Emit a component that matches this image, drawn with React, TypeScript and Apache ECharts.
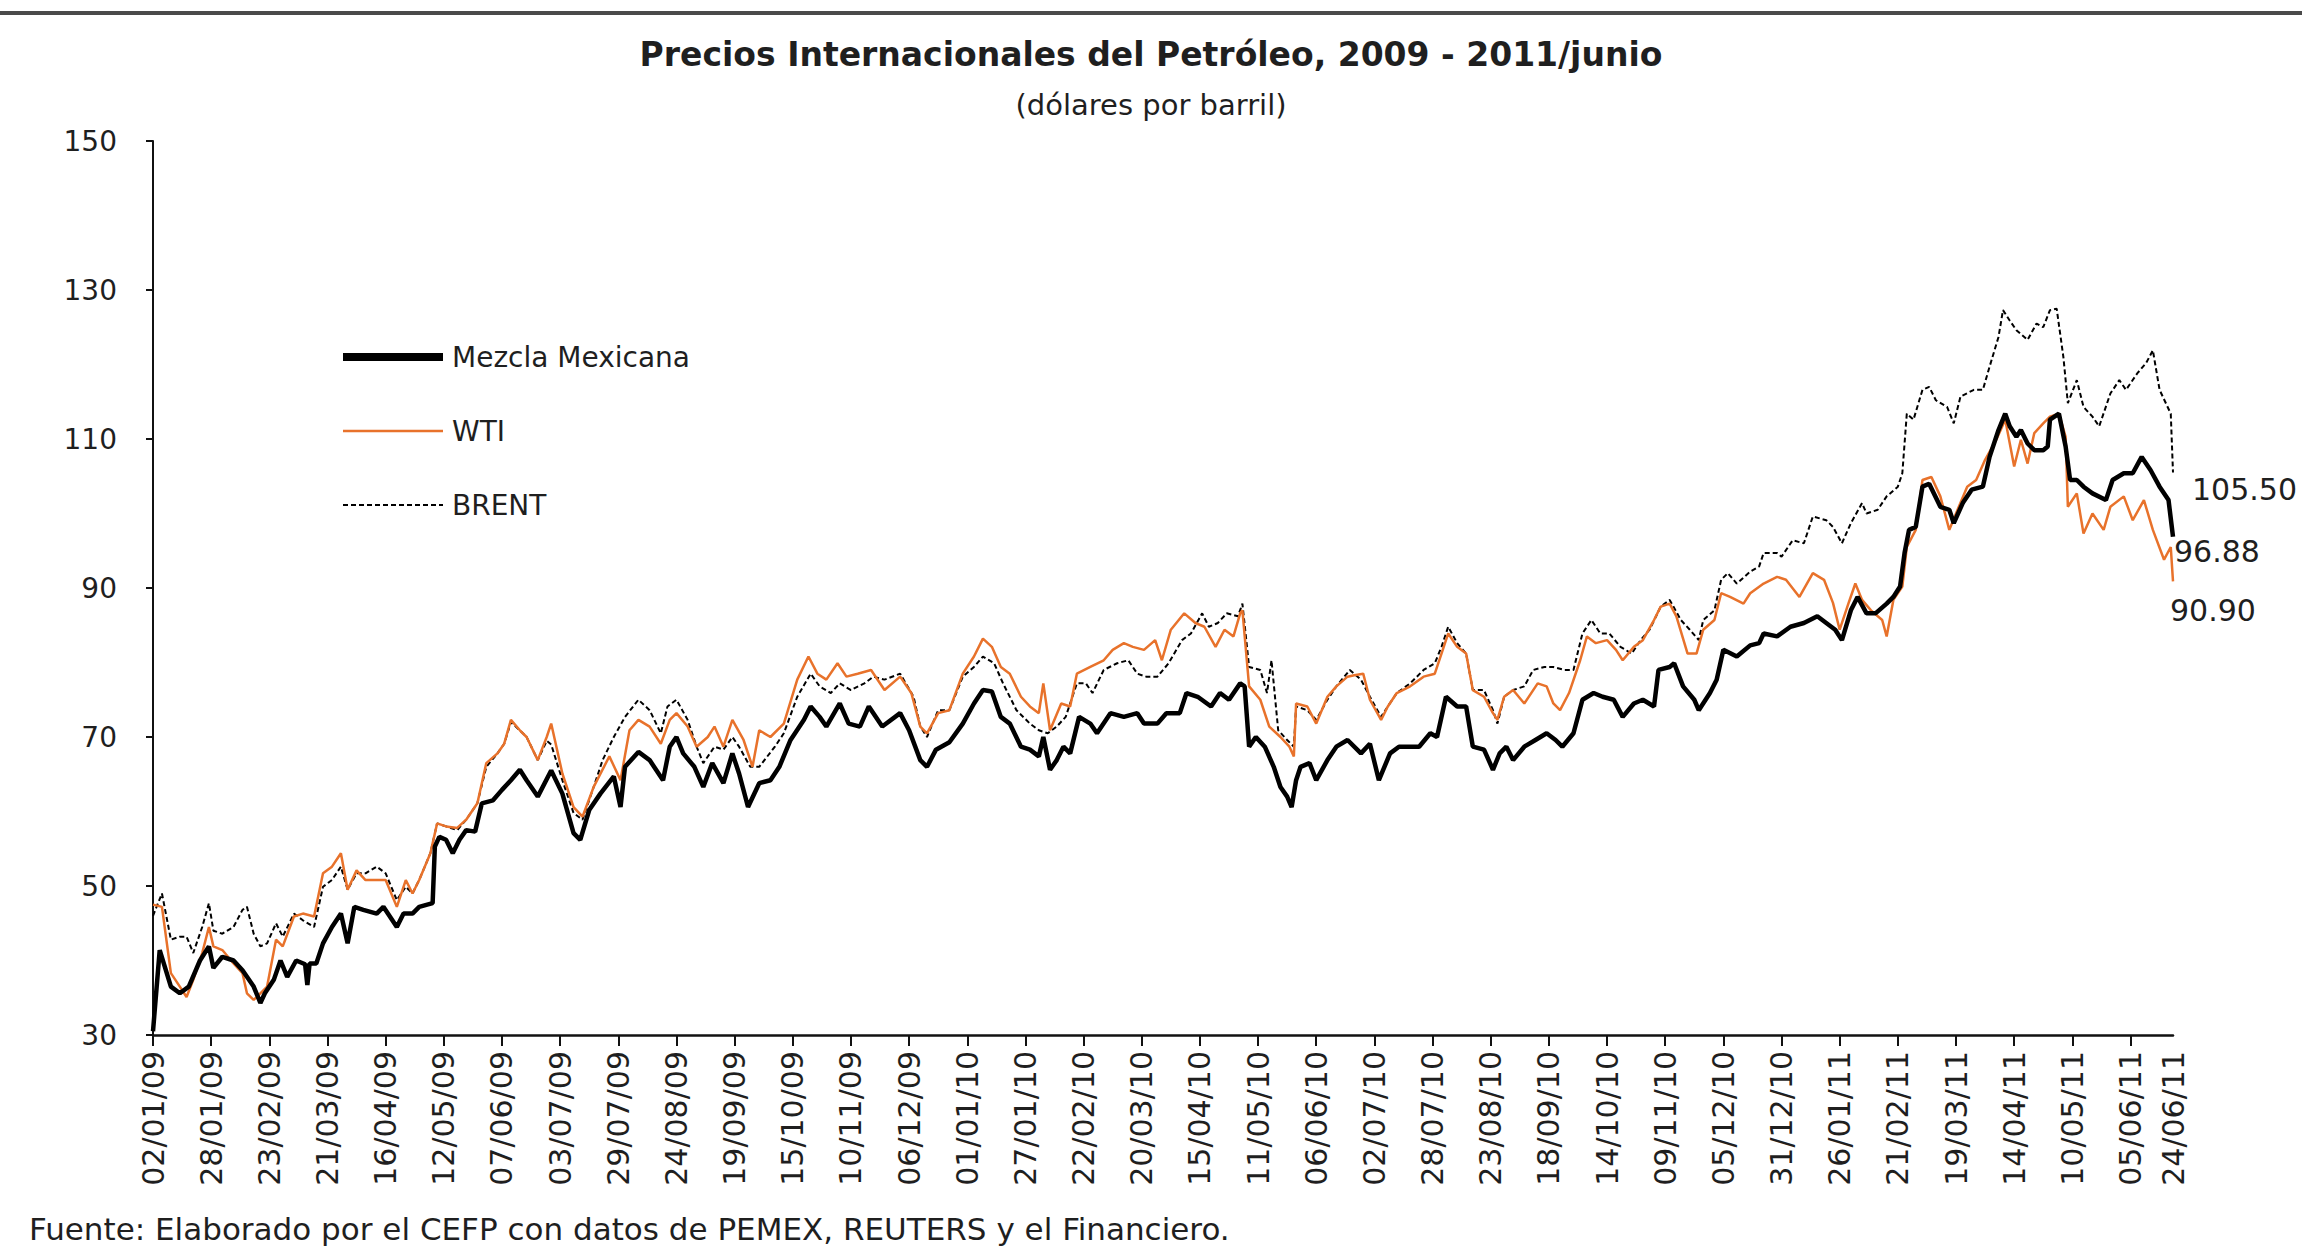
import React, { useEffect, useRef } from "react";
import * as echarts from "echarts";

// ---- Axis / text content ----
const titleText = "Precios Internacionales del Petróleo, 2009 - 2011/junio";
const subtitleText = "(dólares por barril)";
const sourceText = "Fuente: Elaborado por el CEFP con datos de PEMEX, REUTERS y el Financiero.";
const startDate = [2009, 0, 2]; // 02/01/09
const totalDays = 904; // through 24/06/11
const labelStep = 26; // days between x-axis labels
const yMin = 30;
const yMax = 150;
const yStep = 20;

// ---- Series: day offset from 02/01/09 and price (USD/bbl) ----
const mezclaDays = [0, 3, 8, 12, 16, 21, 25, 27, 31, 36, 40, 45, 48, 50, 54, 57, 60, 64, 68, 69, 70, 73, 76, 80, 84, 87, 90, 94, 100, 103, 109, 112, 116, 119, 125, 126, 128, 131, 134, 137, 140, 144, 147, 152, 156, 160, 164, 167, 172, 178, 183, 188, 191, 195, 200, 206, 209, 211, 217, 222, 228, 231, 234, 237, 242, 246, 250, 255, 259, 262, 266, 271, 276, 280, 285, 291, 294, 298, 301, 307, 311, 316, 320, 326, 334, 338, 343, 346, 350, 356, 362, 367, 371, 375, 379, 383, 388, 392, 396, 398, 401, 404, 407, 410, 414, 419, 422, 428, 434, 440, 443, 449, 453, 459, 462, 467, 473, 477, 481, 486, 488, 490, 493, 497, 501, 504, 507, 509, 511, 513, 517, 520, 525, 529, 534, 540, 544, 548, 553, 557, 562, 566, 571, 574, 578, 583, 587, 590, 595, 599, 602, 605, 608, 613, 618, 623, 627, 630, 635, 639, 644, 648, 653, 657, 662, 666, 671, 673, 678, 680, 684, 689, 691, 696, 699, 702, 708, 714, 718, 720, 726, 732, 738, 744, 748, 752, 755, 759, 762, 766, 770, 775, 778, 781, 783, 785, 788, 791, 794, 799, 803, 805, 809, 813, 818, 821, 825, 828, 830, 833, 835, 838, 841, 845, 847, 848, 852, 855, 857, 860, 863, 867, 873, 876, 881, 885, 889, 893, 897, 901, 903];
const mezclaValues = [30.5, 41.4, 36.5, 35.6, 36.5, 40, 41.9, 39, 40.5, 40, 38.7, 36.5, 34.3, 35.6, 37.4, 40, 37.8, 40, 39.5, 36.7, 39.6, 39.6, 42.3, 44.5, 46.3, 42.3, 47.2, 46.8, 46.3, 47.2, 44.5, 46.3, 46.3, 47.2, 47.7, 55.3, 56.6, 56.2, 54.4, 56.2, 57.5, 57.3, 61.1, 61.5, 62.9, 64.2, 65.6, 64.2, 62, 65.5, 62.4, 57.1, 56.2, 60.2, 62.4, 64.7, 60.6, 66, 68, 66.9, 64.2, 68.7, 70, 67.8, 66, 63.3, 66.5, 63.8, 67.8, 65.1, 60.6, 63.8, 64.2, 66, 69.6, 72.3, 74.1, 72.7, 71.4, 74.5, 71.8, 71.4, 74.1, 71.4, 73.2, 70.9, 66.9, 66, 68.3, 69.3, 71.8, 74.5, 76.3, 76.1, 72.7, 71.8, 68.7, 68.3, 67.4, 70, 65.6, 66.9, 68.7, 67.8, 72.7, 71.8, 70.5, 73.2, 72.7, 73.2, 71.8, 71.8, 73.2, 73.2, 75.9, 75.4, 74.1, 75.9, 75, 77.2, 76.8, 68.7, 70, 68.7, 66, 63.3, 62, 60.6, 64.2, 66, 66.5, 64.2, 66.9, 68.7, 69.6, 67.8, 69.1, 64.2, 67.8, 68.7, 68.7, 68.7, 70.5, 70, 75.4, 74.1, 74.1, 68.7, 68.3, 65.6, 67.8, 68.7, 66.9, 68.7, 69.6, 70.5, 69.6, 68.7, 70.5, 75, 75.9, 75.4, 75, 72.7, 74.5, 75, 74.1, 79, 79.4, 79.9, 76.8, 75, 73.6, 75.9, 77.7, 81.7, 80.8, 82.3, 82.6, 83.9, 83.5, 84.8, 85.3, 86.2, 85.3, 84.4, 83, 87, 88.8, 86.6, 86.6, 87.9, 88.8, 90.2, 94.7, 97.8, 98.2, 103.6, 104, 100.9, 100.5, 98.7, 101.4, 103.2, 103.6, 107.6, 111.2, 113.4, 111.7, 110.3, 111.2, 109.4, 108.5, 108.5, 109, 112.6, 113.4, 109, 104.5, 104.5, 103.6, 102.7, 101.8, 104.5, 105.4, 105.4, 107.6, 105.8, 103.6, 101.8, 96.88];

const wtiDays = [0, 4, 8, 12, 15, 18, 22, 25, 27, 31, 36, 40, 42, 45, 48, 51, 55, 58, 63, 67, 72, 76, 80, 84, 87, 91, 95, 100, 104, 109, 113, 116, 119, 124, 127, 131, 136, 140, 145, 149, 154, 157, 160, 164, 167, 172, 176, 178, 183, 188, 192, 197, 204, 209, 213, 217, 222, 227, 231, 234, 239, 243, 248, 251, 255, 259, 264, 268, 271, 276, 282, 288, 293, 297, 301, 306, 310, 315, 321, 327, 334, 339, 343, 346, 351, 356, 362, 367, 371, 375, 379, 383, 388, 392, 396, 398, 401, 406, 410, 413, 419, 425, 429, 434, 438, 443, 448, 451, 455, 461, 466, 470, 475, 479, 483, 486, 487, 490, 495, 499, 504, 508, 510, 511, 516, 520, 525, 529, 534, 537, 541, 544, 549, 552, 556, 562, 568, 573, 576, 579, 583, 587, 590, 595, 599, 601, 604, 608, 613, 619, 623, 626, 629, 633, 638, 641, 645, 650, 654, 657, 662, 666, 671, 674, 678, 681, 686, 690, 693, 698, 701, 705, 711, 714, 720, 726, 730, 736, 742, 747, 751, 754, 758, 761, 764, 768, 773, 775, 778, 782, 784, 788, 791, 795, 799, 803, 806, 811, 815, 819, 824, 828, 832, 835, 838, 841, 845, 848, 852, 855, 856, 860, 863, 867, 872, 875, 881, 885, 890, 894, 899, 902, 903];
const wtiValues = [47.5, 47.2, 38.3, 36.5, 35.1, 37.4, 41, 44.5, 41.9, 41.4, 39.6, 38.3, 35.6, 34.7, 35.6, 36.5, 42.8, 41.9, 45.9, 46.3, 45.9, 51.7, 52.6, 54.4, 49.5, 52.1, 50.8, 50.8, 50.8, 47.2, 50.8, 49, 50.8, 54.4, 58.4, 58, 57.8, 58.9, 61.1, 66.5, 67.8, 69.1, 72.3, 70.9, 70, 66.9, 70, 71.8, 65.1, 60.6, 59.3, 63.3, 67.4, 64.2, 70.9, 72.3, 71.4, 69.1, 72.3, 73.2, 71.4, 68.7, 70, 71.4, 68.7, 72.3, 69.6, 66, 70.9, 70, 71.8, 77.7, 80.8, 78.5, 77.7, 79.9, 78.1, 78.5, 79, 76.3, 78.1, 75.9, 71.4, 70.5, 73.2, 73.6, 78.5, 80.8, 83.2, 82.1, 79.4, 78.5, 75.4, 74.1, 73.2, 77.2, 70.9, 74.5, 74.1, 78.5, 79.4, 80.3, 81.7, 82.6, 82.1, 81.7, 83, 80.3, 84.4, 86.6, 85.3, 84.8, 82.1, 84.4, 83.5, 86.6, 87, 76.8, 75, 71.4, 70, 68.7, 67.4, 74.5, 74.1, 71.8, 75.4, 76.8, 78.1, 78.3, 78.5, 75, 72.3, 74.1, 75.9, 76.8, 78.1, 78.5, 81.2, 83.9, 82.1, 81.2, 76.3, 75.4, 73.2, 72.3, 75.4, 76.3, 74.5, 77.2, 76.8, 74.5, 73.6, 75.9, 80.3, 83.5, 82.6, 83, 81.7, 80.3, 82.1, 83, 85.7, 87.5, 87.9, 86.2, 81.2, 81.2, 84.4, 85.7, 89.3, 88.8, 87.9, 89.3, 90.6, 91.5, 91.1, 88.8, 92, 91.1, 88, 84.4, 88, 90.6, 88.4, 87, 85.7, 83.5, 88.4, 90.2, 95.5, 97.8, 104.5, 104.9, 102.3, 97.8, 100, 103.6, 104.5, 107.2, 109.9, 112.6, 106.3, 109.9, 106.7, 110.8, 112.1, 113, 113.4, 110.3, 100.9, 102.7, 97.3, 100, 97.8, 100.9, 102.3, 99.1, 101.8, 97.8, 93.8, 95.5, 90.9];

const brentDays = [0, 4, 8, 12, 15, 18, 22, 25, 27, 31, 36, 40, 42, 45, 48, 51, 55, 58, 63, 67, 72, 76, 80, 84, 87, 91, 95, 100, 104, 109, 113, 116, 119, 124, 127, 131, 136, 140, 145, 149, 154, 157, 160, 164, 167, 172, 176, 178, 183, 188, 192, 197, 201, 206, 211, 217, 222, 227, 230, 234, 239, 243, 246, 251, 255, 259, 262, 267, 271, 278, 282, 288, 294, 298, 303, 307, 312, 318, 322, 327, 334, 340, 343, 346, 351, 356, 362, 367, 371, 376, 380, 386, 392, 396, 400, 404, 408, 413, 417, 420, 425, 431, 436, 440, 444, 449, 454, 460, 464, 469, 472, 476, 480, 485, 487, 490, 495, 498, 500, 503, 507, 510, 511, 516, 520, 525, 529, 535, 540, 544, 549, 552, 556, 562, 568, 573, 576, 579, 583, 587, 590, 595, 599, 601, 604, 608, 613, 617, 622, 626, 631, 635, 639, 643, 647, 651, 656, 661, 665, 669, 674, 678, 683, 687, 691, 693, 698, 701, 704, 708, 714, 718, 720, 726, 728, 733, 738, 742, 748, 751, 755, 759, 764, 766, 771, 775, 780, 782, 784, 787, 791, 794, 797, 802, 805, 808, 814, 818, 821, 825, 827, 830, 833, 838, 842, 845, 848, 851, 854, 856, 860, 863, 867, 870, 875, 879, 882, 887, 891, 894, 897, 902, 903];
const brentValues = [46, 49, 42.8, 43.2, 43.2, 41, 44.5, 47.7, 44, 43.6, 44.5, 46.8, 47.2, 43.6, 41.9, 42.3, 45, 43.2, 46.3, 45.4, 44.5, 49.9, 50.8, 52.6, 49.5, 51.7, 51.7, 52.6, 51.7, 48.1, 49.9, 49, 50.8, 54.4, 58.4, 58, 57.5, 58.9, 61.1, 66, 67.8, 69.1, 72, 70.9, 70, 66.9, 69.5, 69, 64.2, 59.8, 58.9, 63.3, 66.9, 70, 72.7, 75, 73.6, 70.5, 74.1, 75, 72.3, 68.7, 66.5, 68.7, 68.3, 70, 68.7, 66, 66, 68.7, 70.5, 75.4, 78.5, 76.8, 75.9, 77.2, 76.3, 77.2, 78.1, 77.7, 78.5, 75.4, 71.4, 70, 73.6, 73.6, 78.1, 79.4, 80.8, 79.9, 77.2, 73.6, 71.8, 70.9, 70.5, 71.4, 72.7, 77.2, 77.2, 75.9, 79, 79.9, 80.3, 78.5, 78.1, 78.1, 79.9, 83, 83.9, 86.6, 84.8, 85.3, 86.6, 86.2, 87.9, 79.4, 79, 75.9, 80.3, 70.9, 69.6, 68.7, 74.1, 73.6, 72.3, 75, 76.8, 79, 77.7, 75.4, 72.7, 74.1, 75.9, 77.2, 79, 79.9, 82.1, 84.8, 82.6, 81.2, 76.3, 76.3, 73.6, 71.8, 75.4, 76.3, 76.8, 79, 79.4, 79.4, 79, 79, 83.9, 85.7, 83.9, 83.9, 82.1, 81.2, 83, 84.4, 87.5, 88.4, 85.7, 84.4, 83, 85.7, 87, 91.1, 92, 90.6, 92.2, 92.9, 94.7, 94.7, 94.2, 96.4, 96, 99.6, 99.1, 98.2, 96, 98.7, 101.4, 100, 100.5, 102.3, 103.6, 105.4, 113.4, 112.6, 116.6, 117, 115.2, 114.3, 112.1, 115.7, 116.6, 116.6, 119.7, 123.7, 127.3, 125.9, 124.6, 123.3, 125.5, 125, 127.3, 127.5, 121, 114.8, 117.9, 114.3, 113, 111.7, 116.1, 117.9, 116.6, 118.8, 120.2, 121.9, 116.6, 113.4, 105.5];

const FONT = "DejaVu Sans";
const TEXT = "#1f1f1f";
const ORANGE = "#E8722B";

function pad(n: number) {
  return n < 10 ? "0" + n : String(n);
}

function buildCategories(): string[] {
  const out: string[] = [];
  const base = Date.UTC(startDate[0], startDate[1], startDate[2]);
  for (let i = 0; i < totalDays; i++) {
    const d = new Date(base + i * 86400000);
    out.push(pad(d.getUTCDate()) + "/" + pad(d.getUTCMonth() + 1) + "/" + pad(d.getUTCFullYear() % 100));
  }
  return out;
}

function pairs(cats: string[], days: number[], values: number[]) {
  return days.map((d, i) => [cats[d], values[i]]);
}

export default function App() {
  const ref = useRef<HTMLDivElement>(null);

  useEffect(() => {
    if (!ref.current) return;
    const chart = echarts.init(ref.current, null, { renderer: "svg" });
    const cats = buildCategories();
    const last = totalDays - 1;
    const labelFn = (i: number) => i % labelStep === 0 || i === last;
    const tickFn = (i: number) => i % labelStep === 0;
    const endLabel = (offset: number[]) => ({
      show: true,
      distance: 0,
      offset,
      formatter: (p: any) => Number(p.value[1]).toFixed(2),
      fontFamily: FONT,
      fontSize: 30,
      color: TEXT,
    });

    chart.setOption({
      animation: false,
      backgroundColor: "#ffffff",
      title: [
        {
          text: titleText,
          left: "center",
          top: 33,
          textStyle: { fontFamily: FONT, fontSize: 33, fontWeight: "bold", color: TEXT },
        },
        {
          text: subtitleText,
          left: "center",
          top: 85,
          textStyle: { fontFamily: FONT, fontSize: 29, fontWeight: "normal", color: TEXT },
        },
      ],
      legend: {
        orient: "vertical",
        left: 334,
        top: 337,
        itemWidth: 100,
        itemHeight: 14,
        itemGap: 44,
        itemStyle: { opacity: 0 },
        textStyle: { fontFamily: FONT, fontSize: 28, color: TEXT, lineHeight: 30, padding: [0, 0, 0, 4] },
        data: [
          { name: "Mezcla Mexicana", lineStyle: { width: 8, color: "#000" } },
          { name: "WTI", lineStyle: { width: 2.5, color: ORANGE } },
          { name: "BRENT", lineStyle: { width: 2, color: "#000", type: [5, 3] } },
        ],
      },
      grid: { left: 153, right: 129, top: 141, bottom: 214, containLabel: false },
      xAxis: {
        type: "category",
        data: cats,
        boundaryGap: false,
        axisLine: { show: true, lineStyle: { color: "#111", width: 2.5 } },
        axisTick: { show: true, interval: tickFn, length: 11, lineStyle: { color: "#111", width: 2 } },
        axisLabel: {
          interval: labelFn,
          rotate: 90,
          margin: 16,
          fontFamily: FONT,
          fontSize: 30,
          color: TEXT,
        },
        splitLine: { show: false },
      },
      yAxis: {
        type: "value",
        min: yMin,
        max: yMax,
        interval: yStep,
        axisLine: { show: true, lineStyle: { color: "#111", width: 2 } },
        axisTick: { show: true, length: 7, lineStyle: { color: "#111", width: 2 } },
        axisLabel: { margin: 36, fontFamily: FONT, fontSize: 28, color: TEXT },
        splitLine: { show: false },
      },
      series: [
        {
          name: "BRENT",
          type: "line",
          data: pairs(cats, brentDays, brentValues),
          symbol: "none",
          lineStyle: { color: "#000", width: 2, type: [5, 3] },
          itemStyle: { color: "#000" },
          z: 2,
          endLabel: endLabel([19, 17]),
        },
        {
          name: "WTI",
          type: "line",
          data: pairs(cats, wtiDays, wtiValues),
          symbol: "none",
          lineStyle: { color: ORANGE, width: 2.5 },
          itemStyle: { color: ORANGE },
          z: 3,
          endLabel: endLabel([-3, 29]),
        },
        {
          name: "Mezcla Mexicana",
          type: "line",
          data: pairs(cats, mezclaDays, mezclaValues),
          symbol: "none",
          lineStyle: { color: "#000", width: 4.5 },
          itemStyle: { color: "#000" },
          z: 4,
          endLabel: endLabel([1, 15]),
        },
      ],
      graphic: [
        {
          type: "rect",
          left: 0,
          top: 11,
          shape: { width: 2302, height: 4 },
          style: { fill: "#4a4a4a" },
          silent: true,
        },
        {
          type: "text",
          left: 29,
          top: 1212,
          style: {
            text: sourceText,
            fontFamily: FONT,
            fontSize: 31,
            lineHeight: 33,
            fill: TEXT,
          },
          silent: true,
        },
      ],
    });

    return () => chart.dispose();
  }, []);

  return (
    <div
      ref={ref}
      style={{ position: "fixed", left: 0, top: 0, width: 2302, height: 1249, background: "#fff" }}
    />
  );
}
